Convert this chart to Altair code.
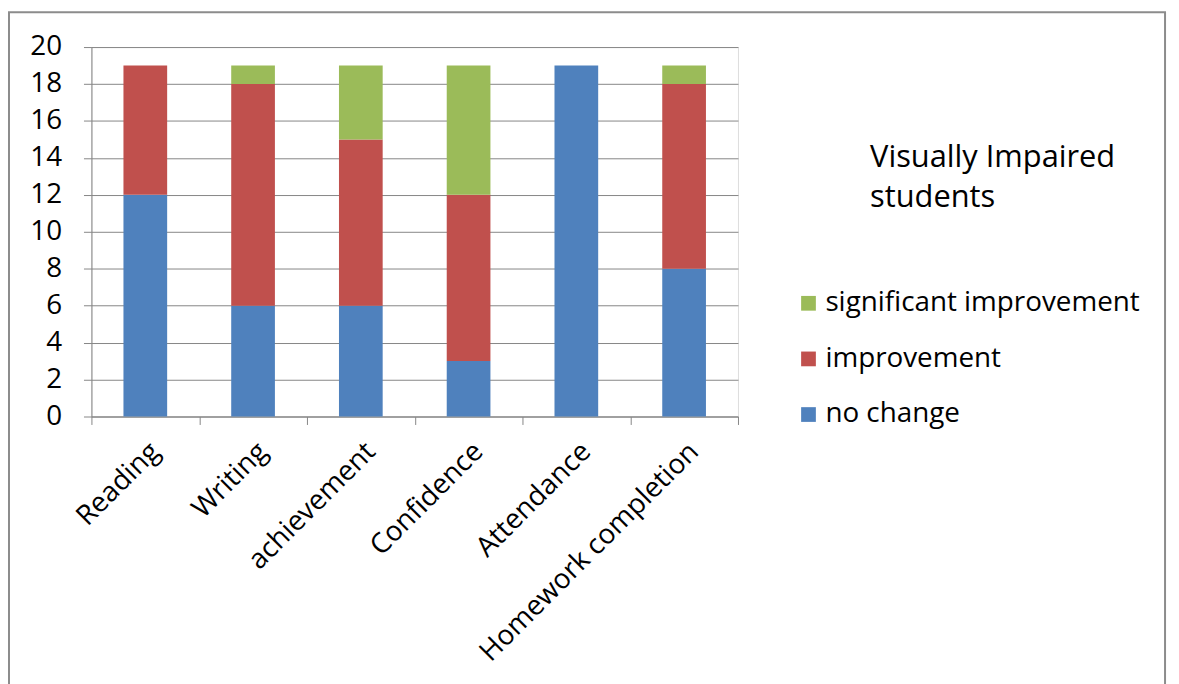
import altair as alt
import pandas as pd

categories = ["Reading", "Writing", "achievement", "Confidence", "Attendance", "Homework completion"]
no_change = [12, 6, 6, 3, 19, 8]
improvement = [7, 12, 9, 9, 0, 10]
significant = [0, 1, 4, 7, 0, 1]

series = ["significant improvement", "improvement", "no change"]
colors = ["#9BBB59", "#C0504D", "#4F81BD"]
stack_order = {"no change": 0, "improvement": 1, "significant improvement": 2}

rows = []
for i, c in enumerate(categories):
    for s, vals in (("no change", no_change), ("improvement", improvement), ("significant improvement", significant)):
        rows.append({"category": c, "series": s, "value": vals[i], "ord": stack_order[s]})
df = pd.DataFrame(rows)

FONT = "Open Sans"
W, H = 651, 372

bars = alt.Chart(df).mark_bar(size=44).encode(
    x=alt.X("category:N", sort=categories, title=None,
            scale=alt.Scale(paddingInner=0, paddingOuter=0),
            axis=alt.Axis(labelAngle=-45, tickBand="extent", tickSize=8, tickColor="#868686",
                          domainColor="#868686", labelFontSize=28, labelFont=FONT, labelColor="#000000",
                          labelPadding=13, labelLimit=500, grid=False)),
    y=alt.Y("value:Q", title=None, stack="zero",
            scale=alt.Scale(domain=[0, 20], nice=False),
            axis=alt.Axis(values=list(range(0, 21, 2)), tickSize=8, tickColor="#868686",
                          domainColor="#868686", gridColor="#868686", labelFontSize=28,
                          labelFont=FONT, labelColor="#000000", labelPadding=22)),
    color=alt.Color("series:N", sort=series,
                    scale=alt.Scale(domain=series, range=colors),
                    legend=alt.Legend(title=None, orient="none", legendX=708, legendY=244,
                                      symbolType="square", symbolSize=220, symbolStrokeWidth=0,
                                      labelFontSize=28, labelFont=FONT, labelColor="#000000",
                                      labelLimit=500, rowPadding=28, padding=0, labelOffset=3)),
    order=alt.Order("ord:Q"),
)

title_df = pd.DataFrame({"t": ["Visually Impaired", "students"], "yy": [112, 152]})
title = alt.Chart(title_df).mark_text(align="left", baseline="middle", fontSize=31, font=FONT,
                                      color="#000000").encode(
    text="t:N", x=alt.value(784), y=alt.Y("yy:Q", scale=None)
)

frame = alt.Chart(pd.DataFrame({"a": [0]})).mark_rect(fill=None, stroke="#8c8c8c", strokeWidth=2).encode(
    x=alt.value(-83), x2=alt.value(1081), y=alt.value(-35), y2=alt.value(700)
)

chart = alt.layer(frame, bars, title).properties(
    width=W, height=H,
    padding={"left": 84, "top": 37, "right": 436, "bottom": 267},
    autosize=alt.AutoSizeParams(type="none"),
).configure_view(stroke=None).configure(background="white")

chart.save("out.html", embed_options={"renderer": "svg", "actions": False})
